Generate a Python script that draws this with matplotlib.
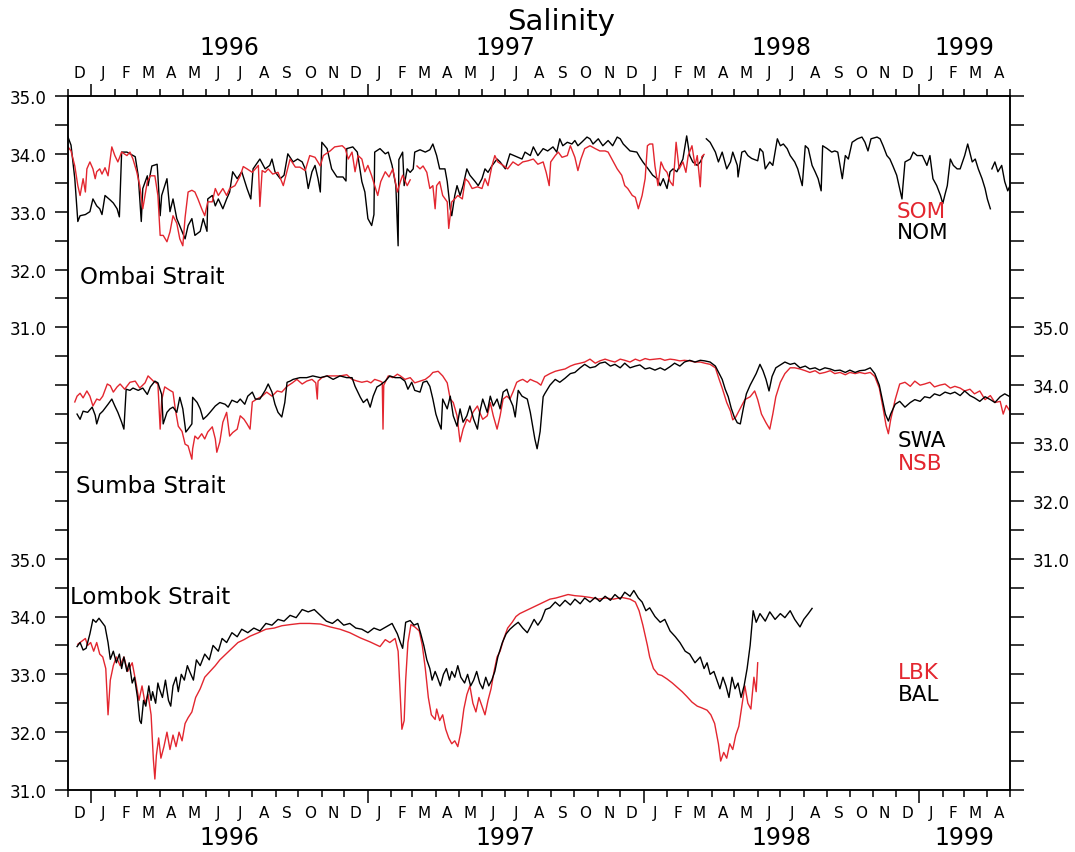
import numpy as np
import matplotlib
matplotlib.use("Agg")
import matplotlib.pyplot as plt
import matplotlib.dates as mdates
from matplotlib.ticker import FixedLocator, FuncFormatter

nan = np.nan
T0 = np.datetime64("1995-12-01")
T1 = np.datetime64("1999-05-01")

# (day since 1995-12-01, salinity)
# Ombai Strait
nom = [(0, 34.29), (4, 34.15), (9, 33.57), (13, 32.83), (16, 32.93), (23, 32.95), (29, 33.0), (33, 33.22),
       (38, 33.1), (42, 33.05), (45, 32.95), (49, 33.28), (56, 33.2), (60, 33.15), (65, 33.05), (68, 32.91),
       (71, 34.03), (78, 34.03), (85, 33.98), (89, 33.95), (93, 33.62), (97, 32.83), (99, 33.4), (105, 33.62),
       (106, 33.45), (111, 33.79), (118, 33.82), (119, 33.62), (122, 32.93), (124, 33.28), (131, 33.57),
       (135, 33.0), (139, 33.22), (144, 32.88), (151, 32.66), (155, 32.53), (159, 32.76), (164, 32.88),
       (168, 32.59), (175, 32.66), (179, 32.88), (184, 32.66), (185, 33.22), (191, 33.28), (195, 33.1),
       (199, 33.22), (205, 33.05), (210, 33.22), (214, 33.34), (218, 33.69), (224, 33.57), (230, 33.69),
       (237, 33.4), (242, 33.22), (245, 33.74), (254, 33.91), (261, 33.74), (267, 33.8), (270, 33.91),
       (274, 33.69), (281, 33.57), (286, 33.63), (291, 34.0), (298, 33.86), (304, 33.91), (310, 33.86),
       (314, 33.74), (318, 33.4), (323, 33.69), (327, 33.8), (331, 33.57), (334, 33.34), (336, 34.2),
       (343, 34.09), (349, 33.74), (356, 33.6), (364, 33.6), (368, 33.53), (369, 34.09), (377, 34.12),
       (383, 34.03), (389, 33.52), (393, 33.34), (397, 32.88), (402, 32.76), (405, 32.95), (406, 34.03),
       (413, 34.09), (420, 34.0), (424, 34.03), (429, 33.8), (434, 33.45), (437, 32.41), (438, 33.9),
       (443, 34.03), (445, 33.45), (449, 33.74), (453, 33.68), (457, 33.74), (459, 34.03), (466, 34.07),
       (473, 34.03), (479, 34.07), (483, 34.17), (488, 33.97), (492, 33.74), (499, 33.74), (502, 33.52),
       (506, 33.05), (508, 32.93), (512, 33.28), (515, 33.45), (519, 33.28), (523, 33.45), (528, 33.74),
       (532, 33.63), (539, 33.52), (543, 33.45), (548, 33.57), (552, 33.74), (556, 33.68), (561, 33.79),
       (568, 33.91), (572, 33.86), (579, 33.74), (585, 34.0), (594, 33.95), (601, 33.91), (605, 34.03),
       (612, 33.97), (616, 34.12), (622, 33.97), (629, 34.09), (635, 34.05), (642, 34.12), (647, 34.03),
       (651, 34.26), (655, 34.14), (661, 34.2), (667, 34.17), (671, 34.23), (675, 34.14), (680, 34.2),
       (687, 34.29), (691, 34.26), (695, 34.17), (702, 34.26), (708, 34.14), (715, 34.23), (721, 34.14),
       (727, 34.29), (731, 34.26), (735, 34.17), (744, 34.05), (753, 34.03), (757, 33.94), (761, 33.86),
       (768, 33.74), (774, 33.63), (780, 33.57), (784, 33.45), (788, 33.57), (793, 33.4), (797, 33.69),
       (801, 33.74), (806, 33.69), (810, 33.8), (814, 33.91), (819, 34.31), (823, 33.97), (827, 33.86),
       (833, 33.8), (837, 33.86), (841, 33.97), (842, nan), (845, 34.26), (850, 34.2), (857, 34.03),
       (861, 33.86), (866, 34.03), (872, 33.74), (877, 33.86), (880, 34.03), (886, 33.8), (887, 33.6),
       (892, 34.03), (896, 34.05), (900, 33.97), (905, 33.92), (909, 33.9), (913, 33.88), (916, 34.09),
       (920, 34.03), (923, 33.74), (929, 33.86), (933, 33.8), (939, 34.26), (943, 34.14), (947, 34.17),
       (952, 34.09), (956, 33.97), (962, 33.86), (966, 33.74), (972, 33.45), (976, 34.14), (980, 34.09),
       (985, 33.8), (989, 33.69), (993, 33.57), (997, 33.36), (999, 34.14), (1005, 34.09), (1011, 34.03),
       (1015, 34.05), (1019, 34.03), (1025, 33.57), (1029, 33.97), (1033, 33.91), (1038, 34.2), (1045, 34.26),
       (1051, 34.29), (1055, 34.2), (1059, 34.05), (1063, 34.26), (1071, 34.29), (1075, 34.26), (1079, 34.14),
       (1084, 33.97), (1088, 33.91), (1092, 33.79), (1097, 33.63), (1101, 33.4), (1104, 33.22), (1105, 33.4),
       (1108, 33.86), (1115, 33.91), (1119, 34.03), (1124, 33.97), (1131, 33.97), (1137, 33.8), (1141, 33.97),
       (1145, 33.57), (1150, 33.45), (1155, 33.28), (1158, 33.14), (1161, 33.3), (1164, 33.45), (1168, 33.91),
       (1172, 33.8), (1177, 33.74), (1181, 33.74), (1187, 33.97), (1191, 34.17), (1197, 33.86), (1201, 33.91),
       (1205, 33.74), (1210, 33.57), (1214, 33.4), (1217, 33.22), (1221, 33.05), (1222, nan), (1223, 33.74),
       (1227, 33.86), (1231, 33.69), (1236, 33.8), (1240, 33.52), (1244, 33.36), (1247, 33.45)]

som = [(0, 34.12), (4, 34.05), (9, 33.79), (13, 33.45), (16, 33.28), (20, 33.57), (23, 33.34), (25, 33.74),
       (29, 33.86), (33, 33.74), (36, 33.57), (38, 33.69), (42, 33.74), (45, 33.65), (49, 33.76), (53, 33.62),
       (58, 34.12), (62, 33.97), (66, 33.86), (71, 34.03), (78, 33.97), (82, 34.03), (86, 33.91), (91, 33.69),
       (95, 33.45), (99, 33.05), (105, 33.52), (109, 33.62), (115, 33.62), (119, 33.28), (122, 32.59),
       (126, 32.59), (131, 32.48), (135, 32.65), (139, 32.93), (144, 32.8), (148, 32.53), (152, 32.41),
       (155, 32.9), (159, 33.34), (164, 33.37), (168, 33.34), (172, 33.22), (177, 33.05), (181, 32.93),
       (185, 33.17), (191, 33.17), (195, 33.4), (199, 33.28), (205, 33.4), (210, 33.28), (214, 33.4),
       (221, 33.45), (228, 33.62), (232, 33.78), (237, 33.74), (244, 33.68), (248, 33.74), (252, 33.8),
       (254, 33.09), (257, 33.71), (261, 33.68), (265, 33.74), (271, 33.65), (278, 33.68), (285, 33.45),
       (294, 33.91), (301, 33.77), (307, 33.77), (314, 33.71), (320, 33.97), (327, 33.94), (334, 33.79),
       (338, 33.97), (347, 34.05), (353, 34.12), (363, 34.14), (367, 34.09), (371, 33.91), (376, 34.03),
       (380, 33.69), (384, 33.97), (389, 33.91), (393, 33.69), (397, 33.8), (402, 33.62), (406, 33.45),
       (410, 33.28), (414, 33.52), (420, 33.69), (425, 33.6), (430, 33.74), (436, 33.34), (440, 33.52),
       (443, 33.63), (449, 33.45), (453, 33.55), (456, nan), (462, 33.79), (466, 33.74), (470, 33.79),
       (475, 33.68), (479, 33.4), (483, 33.45), (486, 33.05), (488, 33.45), (492, 33.52), (496, 33.28),
       (502, 33.17), (504, 32.71), (508, 33.17), (512, 33.22), (516, 33.28), (522, 33.22), (526, 33.57),
       (530, 33.52), (535, 33.4), (542, 33.43), (548, 33.4), (552, 33.57), (556, 33.45), (561, 33.78),
       (565, 33.97), (569, 33.86), (576, 33.8), (582, 33.74), (589, 33.86), (596, 33.8), (602, 33.86),
       (609, 33.88), (616, 33.91), (622, 33.82), (629, 33.86), (633, 33.68), (637, 33.45), (639, 33.86),
       (645, 33.97), (649, 34.03), (654, 33.94), (661, 33.97), (665, 34.14), (671, 33.94), (675, 33.71),
       (679, 33.91), (684, 34.09), (691, 34.14), (698, 34.09), (704, 34.05), (711, 34.05), (715, 34.03),
       (720, 33.91), (727, 33.74), (733, 33.63), (737, 33.45), (741, 33.4), (747, 33.28), (751, 33.25),
       (755, 33.05), (760, 33.28), (764, 33.57), (767, 34.14), (770, 34.17), (774, 34.17), (777, 33.79),
       (781, 33.45), (785, 33.86), (789, 33.74), (793, 33.68), (797, 33.52), (801, 33.45), (805, 34.2),
       (809, 33.74), (814, 33.86), (818, 33.68), (821, 33.97), (826, 34.14), (830, 33.8), (833, 33.97),
       (837, 33.43), (839, 33.95), (842, 33.99)]

# Sumba Strait
swa = [(12, 33.5), (16, 33.41), (20, 33.55), (26, 33.53), (32, 33.62), (36, 33.48), (38, 33.33), (42, 33.5),
       (46, 33.55), (53, 33.67), (58, 33.76), (62, 33.64), (66, 33.53), (71, 33.36), (74, 33.24), (77, 33.93),
       (82, 33.91), (86, 33.95), (93, 33.91), (99, 33.95), (105, 33.84), (109, 33.97), (115, 34.07),
       (119, 34.04), (124, 33.84), (126, 33.33), (131, 33.53), (135, 33.59), (139, 33.62), (144, 33.53),
       (148, 33.79), (152, 33.59), (156, 33.19), (159, 33.24), (164, 33.33), (165, 33.79), (171, 33.7),
       (175, 33.59), (179, 33.41), (184, 33.47), (188, 33.53), (195, 33.64), (201, 33.7), (208, 33.67),
       (212, 33.62), (217, 33.74), (224, 33.7), (228, 33.76), (234, 33.67), (238, 33.81), (244, 33.88),
       (248, 33.76), (254, 33.76), (261, 33.91), (265, 34.02), (270, 33.88), (274, 33.67), (278, 33.53),
       (283, 33.45), (287, 33.7), (290, 34.05), (294, 34.07), (298, 34.1), (307, 34.13), (316, 34.13),
       (324, 34.16), (334, 34.13), (343, 34.16), (351, 34.1), (360, 34.16), (369, 34.13), (376, 34.13),
       (380, 33.98), (387, 33.79), (391, 33.7), (396, 33.76), (400, 33.62), (404, 33.81), (409, 33.97),
       (413, 34.0), (420, 34.07), (426, 34.16), (433, 34.13), (440, 34.13), (446, 34.07), (450, 33.93),
       (455, 34.05), (459, 33.91), (466, 33.88), (470, 34.05), (475, 34.07), (479, 33.98), (483, 33.76),
       (487, 33.5), (490, 33.38), (494, 33.24), (496, 33.76), (502, 33.59), (506, 33.81), (510, 33.47),
       (515, 33.29), (519, 33.59), (523, 33.36), (528, 33.47), (532, 33.64), (537, 33.41), (542, 33.24),
       (545, 33.53), (549, 33.76), (555, 33.53), (559, 33.81), (563, 33.64), (568, 33.76), (572, 33.59),
       (576, 33.88), (581, 33.93), (585, 33.76), (589, 33.64), (592, 33.45), (596, 33.91), (601, 33.81),
       (608, 33.76), (612, 33.53), (615, 33.3), (618, 33.07), (621, 32.9), (625, 33.2), (629, 33.8),
       (631, 33.85), (638, 34.0), (645, 34.1), (651, 34.05), (658, 34.12), (665, 34.2), (671, 34.22),
       (678, 34.3), (684, 34.36), (691, 34.3), (698, 34.32), (704, 34.38), (711, 34.4), (718, 34.33),
       (724, 34.36), (731, 34.3), (737, 34.38), (744, 34.3), (751, 34.33), (757, 34.35), (764, 34.28),
       (770, 34.3), (777, 34.26), (784, 34.3), (790, 34.26), (797, 34.32), (803, 34.38), (810, 34.33),
       (816, 34.4), (823, 34.43), (830, 34.4), (837, 34.43), (843, 34.42), (850, 34.4), (857, 34.33),
       (862, 34.2), (866, 34.1), (870, 33.93), (874, 33.8), (878, 33.6), (882, 33.45), (886, 33.35),
       (890, 33.33), (894, 33.6), (898, 33.85), (903, 34.0), (907, 34.1), (911, 34.2), (916, 34.36),
       (920, 34.25), (924, 34.1), (928, 33.9), (932, 34.15), (937, 34.3), (943, 34.35), (949, 34.4),
       (956, 34.36), (962, 34.38), (969, 34.3), (976, 34.33), (982, 34.28), (989, 34.3), (995, 34.26),
       (1002, 34.3), (1009, 34.28), (1015, 34.25), (1022, 34.26), (1029, 34.22), (1035, 34.26), (1042, 34.22),
       (1048, 34.25), (1055, 34.26), (1062, 34.3), (1068, 34.2), (1074, 34.0), (1078, 33.75), (1082, 33.5),
       (1086, 33.38), (1089, 33.5), (1095, 33.67), (1101, 33.72), (1108, 33.62), (1115, 33.7), (1121, 33.75),
       (1128, 33.72), (1134, 33.8), (1141, 33.78), (1147, 33.85), (1154, 33.82), (1161, 33.88), (1168, 33.85),
       (1174, 33.88), (1181, 33.82), (1187, 33.9), (1194, 33.82), (1200, 33.78), (1207, 33.72), (1214, 33.8),
       (1221, 33.75), (1227, 33.7), (1234, 33.8), (1240, 33.85), (1247, 33.8)]

nsb = [(9, 33.71), (12, 33.81), (16, 33.86), (20, 33.78), (25, 33.9), (29, 33.81), (33, 33.64), (38, 33.76),
       (42, 33.74), (46, 33.81), (52, 34.02), (56, 33.99), (60, 33.88), (65, 33.97), (69, 34.02), (75, 33.93),
       (82, 34.05), (89, 34.07), (95, 33.95), (102, 34.04), (106, 34.16), (113, 34.07), (119, 34.02),
       (122, 33.24), (124, 33.74), (128, 33.97), (135, 33.91), (139, 33.88), (142, 33.59), (146, 33.29),
       (151, 33.2), (155, 32.98), (159, 32.95), (164, 32.72), (165, 32.9), (168, 33.12), (172, 33.07),
       (177, 33.16), (181, 33.07), (185, 33.19), (191, 33.28), (195, 33.07), (197, 32.84), (201, 33.02),
       (205, 33.36), (210, 33.53), (214, 33.12), (218, 33.18), (224, 33.24), (228, 33.47), (233, 33.41),
       (237, 33.33), (241, 33.24), (244, 33.71), (250, 33.76), (257, 33.81), (263, 33.88), (270, 33.81),
       (277, 33.9), (283, 33.88), (290, 33.98), (297, 34.04), (303, 34.1), (310, 34.02), (316, 34.07),
       (323, 34.1), (328, 34.04), (330, 33.76), (331, 34.07), (336, 34.13), (343, 34.16), (351, 34.16),
       (360, 34.16), (369, 34.18), (376, 34.1), (383, 34.07), (389, 34.05), (396, 34.07), (401, 34.04),
       (406, 34.1), (413, 34.07), (416, 34.05), (417, 33.24), (418, 34.0), (424, 34.16), (430, 34.13),
       (436, 34.19), (440, 34.16), (446, 34.1), (453, 34.13), (459, 34.04), (466, 34.07), (473, 34.1),
       (479, 34.16), (483, 34.22), (490, 34.24), (496, 34.16), (502, 34.04), (506, 33.76), (510, 33.7),
       (515, 33.47), (519, 33.02), (523, 33.24), (528, 33.41), (532, 33.36), (536, 33.53), (542, 33.64),
       (545, 33.53), (549, 33.41), (555, 33.47), (559, 33.7), (563, 33.47), (568, 33.24), (572, 33.47),
       (576, 33.76), (581, 33.81), (585, 33.76), (589, 33.88), (594, 34.05), (598, 34.08), (602, 34.1),
       (608, 34.05), (612, 34.1), (617, 34.07), (621, 34.05), (626, 34.0), (631, 34.15), (638, 34.2),
       (645, 34.24), (651, 34.26), (658, 34.28), (665, 34.33), (671, 34.36), (678, 34.38), (684, 34.4),
       (691, 34.45), (698, 34.38), (704, 34.42), (711, 34.45), (718, 34.42), (724, 34.4), (731, 34.45),
       (737, 34.43), (744, 34.4), (751, 34.45), (757, 34.42), (764, 34.46), (770, 34.44), (777, 34.45),
       (784, 34.46), (790, 34.43), (797, 34.45), (803, 34.44), (810, 34.42), (816, 34.43), (823, 34.42),
       (830, 34.4), (837, 34.4), (843, 34.38), (850, 34.36), (857, 34.3), (862, 34.1), (866, 33.95),
       (872, 33.7), (877, 33.55), (880, 33.4), (884, 33.45), (890, 33.6), (896, 33.75), (903, 33.8),
       (909, 33.9), (913, 33.75), (918, 33.5), (924, 33.35), (929, 33.24), (933, 33.5), (937, 33.8),
       (943, 34.05), (949, 34.2), (956, 34.3), (962, 34.3), (969, 34.28), (976, 34.25), (982, 34.22),
       (989, 34.25), (995, 34.2), (1002, 34.22), (1009, 34.25), (1015, 34.2), (1022, 34.22), (1029, 34.18),
       (1035, 34.22), (1042, 34.2), (1048, 34.22), (1055, 34.2), (1062, 34.22), (1068, 34.15), (1074, 33.95),
       (1079, 33.6), (1083, 33.3), (1086, 33.16), (1089, 33.4), (1095, 33.75), (1101, 34.02), (1108, 34.05),
       (1115, 33.98), (1121, 34.07), (1128, 34.0), (1134, 34.02), (1141, 34.05), (1147, 33.97), (1154, 34.0),
       (1161, 34.02), (1168, 33.95), (1174, 33.98), (1181, 33.95), (1187, 33.9), (1194, 33.93), (1200, 33.85),
       (1207, 33.9), (1214, 33.75), (1221, 33.82), (1227, 33.7), (1234, 33.72), (1238, 33.5), (1242, 33.65),
       (1247, 33.55)]

# Lombok Strait
bal = [(12, 33.48), (16, 33.55), (20, 33.42), (24, 33.45), (29, 33.7), (33, 33.95), (37, 33.9), (41, 33.97),
       (45, 33.9), (49, 33.83), (53, 33.55), (56, 33.26), (60, 33.4), (64, 33.2), (68, 33.35), (71, 33.1),
       (74, 33.3), (78, 33.05), (81, 33.2), (85, 32.85), (88, 32.95), (92, 32.6), (95, 32.2), (97, 32.15),
       (100, 32.55), (103, 32.45), (107, 32.8), (110, 32.55), (112, 32.7), (116, 32.5), (119, 32.85),
       (121, 32.75), (125, 32.6), (129, 32.9), (133, 32.55), (136, 32.45), (139, 32.8), (143, 32.95),
       (146, 32.7), (150, 33.0), (154, 32.9), (158, 33.15), (161, 33.05), (166, 32.9), (170, 33.25),
       (175, 33.15), (181, 33.35), (187, 33.25), (192, 33.5), (199, 33.4), (204, 33.62), (210, 33.55),
       (217, 33.72), (224, 33.65), (230, 33.78), (238, 33.72), (246, 33.8), (254, 33.75), (262, 33.88),
       (270, 33.85), (278, 33.95), (286, 33.92), (294, 34.02), (302, 33.98), (310, 34.12), (318, 34.08),
       (326, 34.12), (334, 34.02), (342, 33.92), (350, 33.88), (357, 33.95), (365, 33.85), (373, 33.88),
       (381, 33.8), (389, 33.78), (397, 33.72), (405, 33.8), (413, 33.76), (421, 33.82), (429, 33.88),
       (436, 33.7), (440, 33.55), (443, 33.45), (447, 33.9), (453, 33.93), (458, 33.85), (463, 33.88),
       (467, 33.7), (471, 33.5), (475, 33.25), (479, 33.1), (482, 32.9), (486, 33.05), (489, 32.95),
       (493, 32.8), (497, 33.0), (501, 33.1), (505, 32.9), (508, 33.05), (512, 32.95), (516, 33.15),
       (520, 32.95), (525, 32.85), (529, 33.0), (533, 32.8), (537, 32.9), (541, 33.05), (545, 32.85),
       (549, 32.75), (553, 32.95), (557, 32.8), (561, 32.9), (565, 33.05), (569, 33.3), (575, 33.55),
       (580, 33.7), (585, 33.78), (591, 33.85), (596, 33.9), (602, 33.8), (608, 33.72), (612, 33.82),
       (617, 33.95), (622, 33.85), (627, 33.95), (632, 34.12), (638, 34.15), (645, 34.25), (651, 34.18),
       (658, 34.28), (665, 34.2), (671, 34.3), (678, 34.22), (684, 34.32), (691, 34.25), (698, 34.33),
       (704, 34.26), (711, 34.35), (718, 34.28), (724, 34.38), (731, 34.3), (737, 34.42), (744, 34.35),
       (749, 34.45), (755, 34.32), (760, 34.25), (765, 34.1), (770, 34.15), (777, 34.0), (784, 33.9),
       (790, 33.95), (797, 33.75), (804, 33.65), (810, 33.55), (817, 33.4), (823, 33.35), (830, 33.2),
       (837, 33.3), (842, 33.1), (846, 33.2), (850, 33.0), (855, 33.05), (859, 32.9), (863, 32.75),
       (867, 32.95), (871, 32.8), (875, 32.6), (879, 32.95), (883, 32.75), (887, 32.85), (891, 32.6),
       (895, 32.8), (899, 33.1), (903, 33.5), (907, 34.1), (911, 33.9), (916, 34.05), (923, 33.92),
       (929, 34.08), (936, 33.95), (943, 34.05), (949, 33.98), (956, 34.1), (962, 33.95), (969, 33.82),
       (974, 33.95), (980, 34.05), (985, 34.14)]

lbk = [(13, 33.52), (19, 33.58), (23, 33.62), (26, 33.5), (30, 33.55), (34, 33.4), (38, 33.55), (42, 33.35),
       (46, 33.3), (50, 33.1), (53, 32.3), (56, 32.9), (60, 33.15), (64, 33.3), (69, 33.15), (74, 33.3),
       (79, 33.05), (85, 33.2), (90, 32.85), (94, 32.55), (98, 32.8), (102, 32.5), (106, 32.65), (110, 32.3),
       (113, 31.53), (115, 31.19), (117, 31.6), (120, 31.9), (123, 31.55), (127, 31.75), (131, 32.0),
       (135, 31.7), (139, 31.95), (143, 31.75), (147, 32.0), (151, 31.85), (155, 32.15), (159, 32.25),
       (164, 32.35), (169, 32.6), (175, 32.75), (181, 32.95), (188, 33.05), (195, 33.15), (201, 33.25),
       (209, 33.35), (217, 33.45), (225, 33.55), (233, 33.6), (241, 33.66), (252, 33.72), (262, 33.78),
       (273, 33.8), (283, 33.84), (294, 33.86), (307, 33.88), (320, 33.88), (334, 33.87), (347, 33.82),
       (360, 33.78), (373, 33.72), (387, 33.63), (400, 33.56), (413, 33.48), (420, 33.6), (426, 33.55),
       (433, 33.62), (437, 33.4), (440, 32.6), (442, 32.05), (445, 32.2), (447, 32.9), (450, 33.55),
       (454, 33.86), (459, 33.82), (465, 33.75), (469, 33.5), (473, 33.1), (477, 32.6), (481, 32.3),
       (486, 32.22), (488, 32.4), (492, 32.2), (496, 32.3), (500, 32.05), (504, 31.9), (508, 31.8),
       (512, 31.85), (516, 31.75), (520, 32.0), (524, 32.4), (528, 32.65), (532, 32.8), (536, 32.5),
       (540, 32.35), (544, 32.6), (548, 32.45), (552, 32.3), (556, 32.55), (560, 32.75), (564, 33.05),
       (568, 33.3), (572, 33.4), (577, 33.62), (582, 33.8), (588, 33.9), (593, 34.0), (598, 34.05),
       (606, 34.1), (614, 34.15), (622, 34.2), (630, 34.25), (638, 34.3), (646, 34.32), (654, 34.35),
       (662, 34.38), (671, 34.36), (680, 34.35), (691, 34.33), (702, 34.3), (712, 34.32), (722, 34.3),
       (733, 34.33), (744, 34.3), (751, 34.25), (756, 34.1), (761, 33.85), (767, 33.5), (770, 33.3),
       (775, 33.1), (781, 33.0), (786, 32.98), (793, 32.92), (800, 32.85), (806, 32.78), (813, 32.7),
       (819, 32.62), (826, 32.52), (833, 32.45), (839, 32.42), (846, 32.38), (851, 32.3), (856, 32.15),
       (861, 31.8), (864, 31.5), (868, 31.65), (872, 31.55), (876, 31.8), (880, 31.7), (884, 31.95),
       (888, 32.1), (892, 32.45), (896, 32.8), (900, 32.5), (904, 32.4), (908, 32.95), (911, 32.7),
       (913, 33.2)]

# vertical offsets that stack the three straits on one axis
OFF_OMBAI, OFF_SUMBA, OFF_LOMBOK = 23, 27, 31

RED = "#e3262f"
BLACK = "black"


def series(pairs, offset):
    arr = np.array(pairs, dtype=float)
    t = T0 + arr[:, 0].astype(int).astype("timedelta64[D]")
    return t, arr[:, 1] - offset


plt.rcParams["font.family"] = "DejaVu Sans"
fig = plt.figure(figsize=(10.75, 8.53), dpi=100)
ax = fig.add_axes([68 / 1075, 1 - 791 / 853, 942 / 1075, 694 / 853])

for pairs, off, col in [(nom, OFF_OMBAI, BLACK), (som, OFF_OMBAI, RED),
                        (nsb, OFF_SUMBA, RED), (swa, OFF_SUMBA, BLACK),
                        (lbk, OFF_LOMBOK, RED), (bal, OFF_LOMBOK, BLACK)]:
    t, y = series(pairs, off)
    ax.plot(t, y, color=col, lw=1.0, zorder=2)

ax.set_xlim(T0, T1)
ax.set_ylim(0, 12)

# month ticks on top and bottom, January ticks longer
ax.xaxis.set_major_locator(mdates.MonthLocator(bymonth=1))
ax.xaxis.set_minor_locator(mdates.MonthLocator())
ax.xaxis.set_major_formatter(plt.NullFormatter())
ax.xaxis.set_ticks_position("both")
ax.tick_params(axis="x", which="major", direction="out", length=9, width=1.1)
ax.tick_params(axis="x", which="minor", direction="out", length=5, width=1.1)

yticks = np.arange(0, 12.01, 0.5)


def left_label(v, pos):
    if abs(v - round(v)) > 1e-6:
        return ""
    if v >= 8:
        return f"{v + OFF_OMBAI:.1f}"
    if v <= 4:
        return f"{v + OFF_LOMBOK:.1f}"
    return ""


def right_label(v, pos):
    if abs(v - round(v)) > 1e-6 or v < 4 or v > 8:
        return ""
    return f"{v + OFF_SUMBA:.1f}"


ax.yaxis.set_major_locator(FixedLocator(yticks))
ax.yaxis.set_major_formatter(FuncFormatter(left_label))
ax.tick_params(axis="y", direction="out", length=9.5, width=1.1, pad=6, labelsize=12)

axr = ax.twinx()
axr.set_ylim(0, 12)
axr.yaxis.set_major_locator(FixedLocator(yticks))
axr.yaxis.set_major_formatter(FuncFormatter(right_label))
axr.tick_params(axis="y", direction="out", length=10, width=1.1, pad=6, labelsize=12)

for a in (ax, axr):
    for sp in a.spines.values():
        sp.set_linewidth(1.1)

# month initials and year labels above and below the plot
months = np.arange(T0.astype("datetime64[M]"), T1.astype("datetime64[M]"))
letters = "JFMAMJJASOND"
for m in months:
    start = m.astype("datetime64[D]")
    end = (m + 1).astype("datetime64[D]")
    mid = start + (end - start) / 2
    ch = letters[int(str(m)[5:7]) - 1]
    ax.annotate(ch, (mdates.date2num(mid), 1), xycoords=("data", "axes fraction"),
                xytext=(0, 17), textcoords="offset points", ha="center", va="center",
                fontsize=11)
    ax.annotate(ch, (mdates.date2num(mid), 0), xycoords=("data", "axes fraction"),
                xytext=(0, -16), textcoords="offset points", ha="center", va="center",
                fontsize=11)

for yr in [1996, 1997, 1998, 1999]:
    a = max(np.datetime64(f"{yr}-01-01"), T0)
    b = min(np.datetime64(f"{yr + 1}-01-01"), T1)
    mid = mdates.date2num(a + (b - a) / 2)
    ax.annotate(str(yr), (mid, 1), xycoords=("data", "axes fraction"),
                xytext=(0, 35), textcoords="offset points", ha="center", va="center",
                fontsize=17)
    ax.annotate(str(yr), (mid, 0), xycoords=("data", "axes fraction"),
                xytext=(0, -34), textcoords="offset points", ha="center", va="center",
                fontsize=17)

fig.text(561 / 1075, 1 - 22 / 853, "Salinity", ha="center", va="center", fontsize=21)

# strait names
fig.text(80 / 1075, 1 - 277 / 853, "Ombai Strait", va="center", fontsize=16.5)
fig.text(76 / 1075, 1 - 487 / 853, "Sumba Strait", va="center", fontsize=16.5)
fig.text(70 / 1075, 1 - 597 / 853, "Lombok Strait", va="center", fontsize=16.5)

# series names
for x, y, s, c in [(897, 212, "SOM", RED), (897, 233, "NOM", BLACK),
                   (898, 441, "SWA", BLACK), (898, 464, "NSB", RED),
                   (898, 673, "LBK", RED), (898, 695, "BAL", BLACK)]:
    fig.text(x / 1075, 1 - y / 853, s, va="center", color=c, fontsize=15.5)

fig.savefig("out.png", dpi=100)
